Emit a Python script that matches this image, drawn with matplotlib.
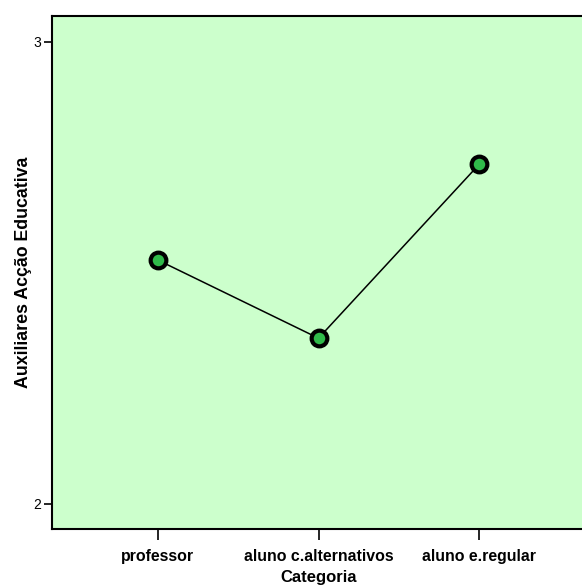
import numpy as np
from matplotlib import pyplot as plt

# Mean plot: Auxiliares Acção Educativa by Categoria
categories = ["professor", "aluno c.alternativos", "aluno e.regular"]
means = [2.527, 2.358, 2.734]
yticks = [2, 3]

px = 1/100
plt.rcParams['font.family'] = ['Liberation Sans', 'DejaVu Sans']

fig = plt.figure(figsize=(582*px, 587*px), dpi=100)
# right edge runs past the figure, like in the original export
ax = fig.add_axes([52/582, 58/587, 533/582, 513.3/587])
ax.set_facecolor("#CCFFCC")

x = np.arange(len(categories))
ax.plot(x, means, color="black", linewidth=1.1, zorder=2)
ax.plot(x, means, linestyle="none", marker="o", markersize=11.3,
        markerfacecolor="#30BA4A", markeredgecolor="black",
        markeredgewidth=3.0, zorder=3)

ax.set_xlim(-0.66, 2.66)
ax.set_ylim(1.945, 3.056)

ax.set_xticks(x)
ax.set_xticklabels(categories, fontweight="bold", fontsize=11.4)
ax.set_yticks(yticks)
ax.set_yticklabels([str(t) for t in yticks], fontsize=10)

ax.tick_params(axis="x", length=8, width=1.2, pad=6.5)
ax.tick_params(axis="y", length=6, width=1.2, pad=2)

for side in ["left", "bottom", "top", "right"]:
    ax.spines[side].set_linewidth(1.5)

ax.set_xlabel("Categoria", fontweight="bold", fontsize=12, labelpad=4.5)
ax.set_ylabel("Auxiliares Acção Educativa", fontweight="bold", fontsize=12.8, labelpad=1)

plt.savefig("out.png", dpi=100)
